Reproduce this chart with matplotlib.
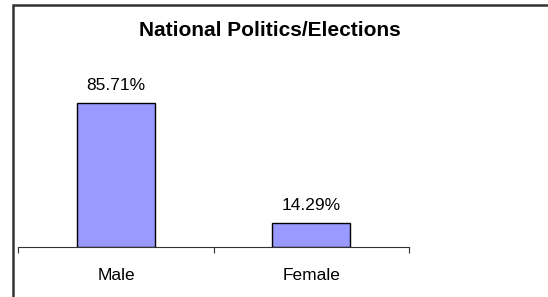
import matplotlib
matplotlib.use("Agg")
import matplotlib.pyplot as plt
from matplotlib.patches import Rectangle

plt.rcParams['font.family'] = ['Liberation Sans', 'DejaVu Sans']

# chart data
title = "National Politics/Elections"
categories = ["Male", "Female"]
values = [85.71, 14.29]
value_labels = ["85.71%", "14.29%"]

W, H = 548, 297
fig = plt.figure(figsize=(W / 100, H / 100), dpi=100)

# outer chart frame (right and bottom edges fall outside the picture)
fig.patches.append(Rectangle((13 / W, -0.1), 1.2, 1.1 - 5 / H,
                             transform=fig.transFigure, fill=False,
                             edgecolor="#333333", linewidth=1.8))

ax = fig.add_axes([18.3 / W, (H - 247.3) / H, (409 - 18.3) / W, 168 / H])
x = list(range(len(categories)))
ax.bar(x, values, width=0.4, color="#9999FF", edgecolor="black", linewidth=1.0)

for xi, v, lab in zip(x, values, value_labels):
    ax.annotate(lab, (xi, v), xytext=(0, 7.5), textcoords="offset points",
                ha="center", va="bottom", fontsize=12.5)

ax.set_xlim(-0.5, len(categories) - 0.5)
ax.set_ylim(0, 100)
for s in ["top", "right", "left"]:
    ax.spines[s].set_visible(False)
ax.spines["bottom"].set_color("#333333")
ax.set_yticks([])
ax.set_xticks([i - 0.5 for i in range(len(categories) + 1)])
ax.set_xticklabels([])
ax.tick_params(axis="x", which="major", length=4.3, color="#333333")
ax.set_xticks(x, minor=True)
ax.set_xticklabels(categories, minor=True, fontsize=12.5)
ax.tick_params(axis="x", which="minor", length=0, pad=15)

fig.text(270 / W, 1 - 30.5 / H, title, ha="center", va="center",
         fontsize=15, fontweight="bold")

fig.savefig("out.png", dpi=100)
